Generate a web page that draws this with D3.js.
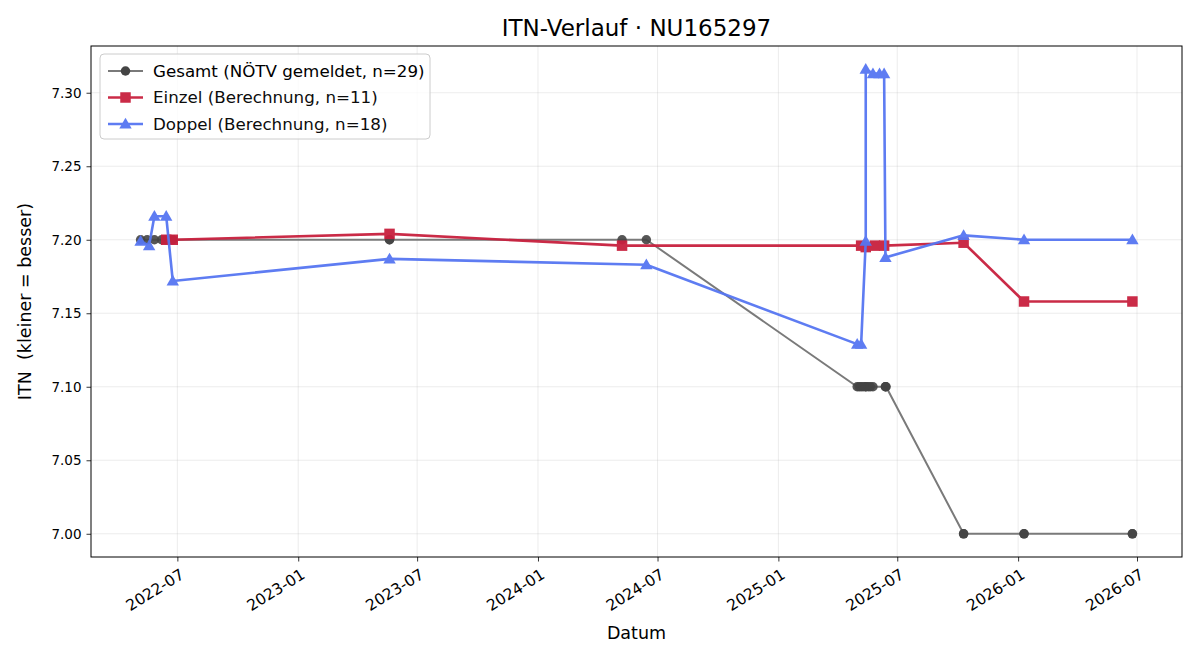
<!DOCTYPE html>
<html>
<head>
<meta charset="utf-8">
<script src="https://cdn.jsdelivr.net/npm/d3@7"></script>
<style>
  body { margin: 0; background: #fff; }
  svg, svg text { font-family: "DejaVu Sans", sans-serif; }
</style>
</head>
<body>
<svg id="chart" width="1200" height="660"></svg>
<script>
// Gesamt (NÖTV gemeldet)
const gesamtDates = [
  "2022-05-06", "2022-05-16", "2022-05-27", "2022-06-07", "2022-06-14", "2022-06-24", "2022-06-24",
  "2023-05-20", "2023-05-20",
  "2024-05-08", "2024-06-14",
  "2025-05-01", "2025-05-04", "2025-05-07", "2025-05-10", "2025-05-14", "2025-05-14",
  "2025-05-18", "2025-05-21", "2025-05-25", "2025-06-13", "2025-06-13", "2025-06-14",
  "2025-10-10", "2025-10-10", "2026-01-10", "2026-01-10", "2026-06-24", "2026-06-24"
];
const gesamtValues = [
  7.20, 7.20, 7.20, 7.20, 7.20, 7.20, 7.20,
  7.20, 7.20,
  7.20, 7.20,
  7.10, 7.10, 7.10, 7.10, 7.10, 7.10,
  7.10, 7.10, 7.10, 7.10, 7.10, 7.10,
  7.00, 7.00, 7.00, 7.00, 7.00, 7.00
];

// Einzel (Berechnung)
const einzelDates = [
  "2022-06-14", "2022-06-24", "2023-05-20", "2024-05-08",
  "2025-05-07", "2025-05-14", "2025-05-28", "2025-06-11",
  "2025-10-10", "2026-01-10", "2026-06-24"
];
const einzelValues = [
  7.200, 7.200, 7.204, 7.196,
  7.196, 7.195, 7.196, 7.196,
  7.198, 7.158, 7.158
];

// Doppel (Berechnung)
const doppelDates = [
  "2022-05-06", "2022-05-19", "2022-05-27", "2022-06-14", "2022-06-24",
  "2023-05-20", "2024-06-14",
  "2025-05-01", "2025-05-07", "2025-05-14", "2025-05-14", "2025-05-25",
  "2025-06-04", "2025-06-11", "2025-06-13",
  "2025-10-10", "2026-01-10", "2026-06-24"
];
const doppelValues = [
  7.199, 7.196, 7.216, 7.216, 7.172,
  7.187, 7.183,
  7.129, 7.129, 7.199, 7.316, 7.313,
  7.313, 7.313, 7.188,
  7.203, 7.200, 7.200
];

const yTicks = [7.00, 7.05, 7.10, 7.15, 7.20, 7.25, 7.30];
const xTicks = ["2022-07", "2023-01", "2023-07", "2024-01", "2024-07", "2025-01", "2025-07", "2026-01", "2026-07"];

const parseDay = d3.timeParse("%Y-%m-%d");
const parseMonth = d3.timeParse("%Y-%m");

const width = 1200, height = 660;
const margin = { top: 46, right: 18, bottom: 103, left: 91 };
const innerWidth = width - margin.left - margin.right;
const innerHeight = height - margin.top - margin.bottom;

const series = [
  { name: "Gesamt (NÖTV gemeldet, n=29)", dates: gesamtDates, values: gesamtValues,
    line: "#7a7a7a", marker: "#444444", lw: 2, shape: "circle", size: 9.5 },
  { name: "Einzel (Berechnung, n=11)", dates: einzelDates, values: einzelValues,
    line: "#c8203e", marker: "#c8203e", lw: 2.6, shape: "square", size: 10.5, opacity: 0.95 },
  { name: "Doppel (Berechnung, n=18)", dates: doppelDates, values: doppelValues,
    line: "#5676f2", marker: "#5676f2", lw: 2.6, shape: "triangle", size: 11, opacity: 0.95 }
];
series.forEach(s => {
  s.points = s.dates.map((d, i) => ({ date: parseDay(d), value: s.values[i] }));
});

// domain with 5% padding like matplotlib
const allDates = series.flatMap(s => s.points.map(p => +p.date));
const allValues = series.flatMap(s => s.values);
const [dMin, dMax] = d3.extent(allDates);
const [vMin, vMax] = d3.extent(allValues);
const dPad = (dMax - dMin) * 0.05, vPad = (vMax - vMin) * 0.05;

const x = d3.scaleTime()
  .domain([new Date(dMin - dPad), new Date(dMax + dPad)])
  .range([0, innerWidth]);
const y = d3.scaleLinear()
  .domain([vMin - vPad, vMax + vPad])
  .range([innerHeight, 0]);

const svg = d3.select("#chart");
const g = svg.append("g").attr("transform", `translate(${margin.left},${margin.top})`);

// grid
const xTickDates = xTicks.map(parseMonth);
g.append("g").selectAll("line").data(xTickDates).join("line")
  .attr("x1", d => x(d)).attr("x2", d => x(d))
  .attr("y1", 0).attr("y2", innerHeight)
  .attr("stroke", "#b0b0b0").attr("stroke-opacity", 0.3).attr("stroke-width", 0.8);
g.append("g").selectAll("line").data(yTicks).join("line")
  .attr("x1", 0).attr("x2", innerWidth)
  .attr("y1", d => y(d)).attr("y2", d => y(d))
  .attr("stroke", "#b0b0b0").attr("stroke-opacity", 0.3).attr("stroke-width", 0.8);

// axes
const xAxis = g.append("g")
  .attr("transform", `translate(0,${innerHeight})`)
  .call(d3.axisBottom(x).tickValues(xTickDates).tickFormat(d3.timeFormat("%Y-%m")).tickSizeOuter(0).tickSize(4.5).tickPadding(4));
xAxis.attr("font-family", null).attr("font-size", null);
xAxis.select(".domain").remove();
xAxis.selectAll("line").attr("stroke", "#000").attr("stroke-width", 0.8);
xAxis.selectAll("text")
  .style("font-size", "15.5px").attr("fill", "#000")
  .attr("text-anchor", "end")
  .attr("y", 0)
  .attr("dy", "0.78em")
  .attr("transform", "translate(1,10) rotate(-32)");

const yAxis = g.append("g")
  .call(d3.axisLeft(y).tickValues(yTicks).tickFormat(d3.format(".2f")).tickSizeOuter(0).tickSize(4.5).tickPadding(5));
yAxis.attr("font-family", null).attr("font-size", null);
yAxis.select(".domain").remove();
yAxis.selectAll("line").attr("stroke", "#000").attr("stroke-width", 0.8);
yAxis.selectAll("text").style("font-size", "13.5px").attr("fill", "#000");

// frame
g.append("rect")
  .attr("width", innerWidth).attr("height", innerHeight)
  .attr("fill", "none").attr("stroke", "#000").attr("stroke-width", 1);

// symbols
function symbolFor(shape, size) {
  const type = shape === "circle" ? d3.symbolCircle : shape === "square" ? d3.symbolSquare : d3.symbolTriangle;
  const area = shape === "triangle" ? size * size * 0.55 : shape === "square" ? size * size : Math.PI * (size / 2) * (size / 2);
  return d3.symbol().type(type).size(area)();
}

const line = d3.line().x(d => x(d.date)).y(d => y(d.value));

series.forEach(s => {
  const sg = g.append("g").attr("opacity", s.opacity || 1);
  sg.append("path")
    .datum(s.points)
    .attr("d", line)
    .attr("fill", "none")
    .attr("stroke", s.line)
    .attr("stroke-width", s.lw)
    .attr("stroke-linejoin", "round");
  sg.selectAll(".pt").data(s.points).join("path")
    .attr("class", "pt")
    .attr("transform", d => `translate(${x(d.date)},${y(d.value) + (s.shape === "triangle" ? 1 : 0)})`)
    .attr("d", symbolFor(s.shape, s.size))
    .attr("fill", s.marker)
    .attr("fill-opacity", s.shape === "circle" ? 0.9 : 1);
});

// title and labels
svg.append("text")
  .attr("x", margin.left + innerWidth / 2).attr("y", 36)
  .attr("text-anchor", "middle").style("font-size", "23px")
  .text("ITN-Verlauf · NU165297");
svg.append("text")
  .attr("x", margin.left + innerWidth / 2).attr("y", 639)
  .attr("text-anchor", "middle").style("font-size", "17.5px")
  .text("Datum");
svg.append("text")
  .attr("transform", `translate(31,${margin.top + innerHeight / 2}) rotate(-90)`)
  .attr("text-anchor", "middle").style("font-size", "17.5px")
  .attr("xml:space", "preserve")
  .text("ITN  (kleiner = besser)");

// legend
const legend = svg.append("g").attr("transform", "translate(100,54)");
legend.append("rect")
  .attr("width", 330).attr("height", 85).attr("rx", 4)
  .attr("fill", "#fff").attr("fill-opacity", 0.8)
  .attr("stroke", "#cccccc").attr("stroke-width", 1);
series.forEach((s, i) => {
  const row = legend.append("g").attr("transform", `translate(0,${17 + i * 26.5})`)
    .attr("opacity", s.opacity || 1);
  row.append("line")
    .attr("x1", 8).attr("x2", 43)
    .attr("stroke", s.line).attr("stroke-width", s.lw);
  row.append("path")
    .attr("transform", `translate(25.5,${s.shape === "triangle" ? 1 : 0})`)
    .attr("d", symbolFor(s.shape, s.size))
    .attr("fill", s.marker);
  row.append("text")
    .attr("x", 53).attr("y", 0).attr("dy", "0.35em")
    .style("font-size", "16.7px").attr("fill", "#000")
    .text(s.name);
});
</script>
</body>
</html>
